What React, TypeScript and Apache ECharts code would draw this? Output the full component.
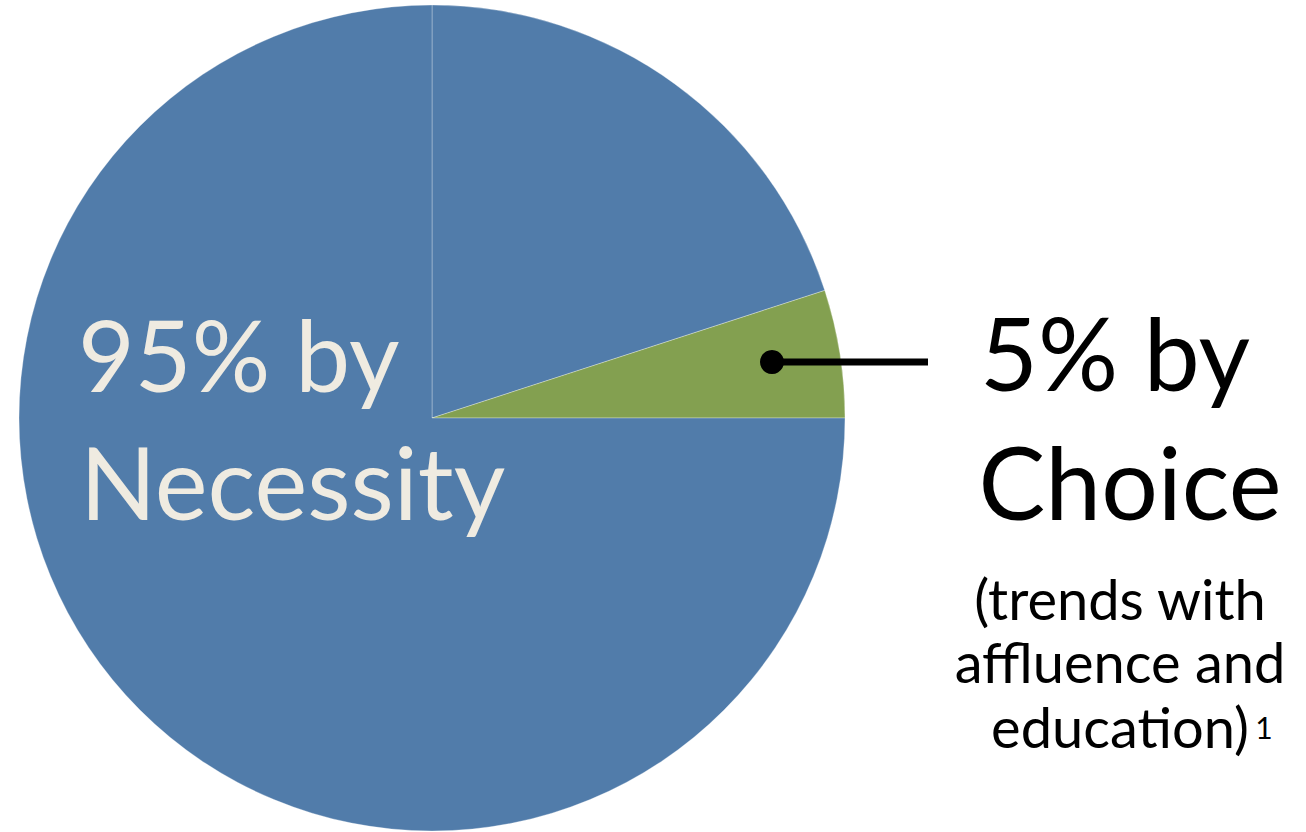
import React, { useEffect, useRef } from "react";
import * as echarts from "echarts";

const sliceNames = ["Necessity (upper part)", "Choice", "Necessity"];
const sliceValues = [20, 5, 75];
const sliceColors = ["#517CAA", "#83A050", "#517CAA"];

const leftLines = ["95% by", "Necessity"];
const rightLines = ["5% by", "Choice"];
const noteLines = ["(trends with", "affluence and", "education)"];
const footnoteMark = "1";

export default function App() {
  const ref = useRef<HTMLDivElement>(null);
  useEffect(() => {
    document.body.style.margin = "0";
    if (!ref.current) return;
    const chart = echarts.init(ref.current, null, { renderer: "svg" });
    const font = "Lato, 'Open Sans', sans-serif";
    const cream = "#EFEBE1";
    const Z = 100;
    chart.setOption({
      animation: false,
      backgroundColor: "#ffffff",
      series: [
        {
          type: "pie",
          center: [432, 418],
          radius: [0, 413],
          startAngle: 90,
          clockwise: true,
          silent: true,
          z: 1,
          label: { show: false },
          labelLine: { show: false },
          itemStyle: { borderColor: "rgba(255,255,255,0.3)", borderWidth: 1 },
          data: sliceValues.map((v, i) => ({
            name: sliceNames[i],
            value: v,
            itemStyle: { color: sliceColors[i] },
          })),
        },
      ],
      graphic: {
        elements: [
          { type: "line", z: Z, shape: { x1: 772, y1: 362, x2: 928, y2: 362 }, style: { stroke: "#000", lineWidth: 7 } },
          { type: "circle", z: Z, shape: { cx: 772, cy: 362, r: 12 }, style: { fill: "#000" } },
          { type: "text", z: Z, x: 78, y: 354, style: { text: leftLines[0], font: `98px ${font}`, fill: cream, align: "left", verticalAlign: "middle" } },
          { type: "text", z: Z, x: 80, y: 481, style: { text: leftLines[1], font: `100px ${font}`, fill: cream, align: "left", verticalAlign: "middle" } },
          { type: "text", z: Z, x: 1115, y: 352, style: { text: rightLines[0], font: `100px ${font}`, fill: "#000", align: "center", verticalAlign: "middle" } },
          { type: "text", z: Z, x: 1130, y: 481, style: { text: rightLines[1], font: `100px ${font}`, fill: "#000", align: "center", verticalAlign: "middle" } },
          { type: "text", z: Z, x: 1120, y: 598, style: { text: noteLines[0], font: `56px ${font}`, fill: "#000", align: "center", verticalAlign: "middle" } },
          { type: "text", z: Z, x: 1120, y: 661, style: { text: noteLines[1], font: `56px ${font}`, fill: "#000", align: "center", verticalAlign: "middle" } },
          { type: "text", z: Z, x: 1120, y: 726, style: { text: noteLines[2], font: `56px ${font}`, fill: "#000", align: "center", verticalAlign: "middle" } },
          { type: "text", z: Z, x: 1264, y: 727, style: { text: footnoteMark, font: `30px ${font}`, fill: "#000", align: "center", verticalAlign: "middle" } },
        ],
      },
    });
    return () => chart.dispose();
  }, []);
  return <div ref={ref} style={{ width: 1306, height: 832 }} />;
}
